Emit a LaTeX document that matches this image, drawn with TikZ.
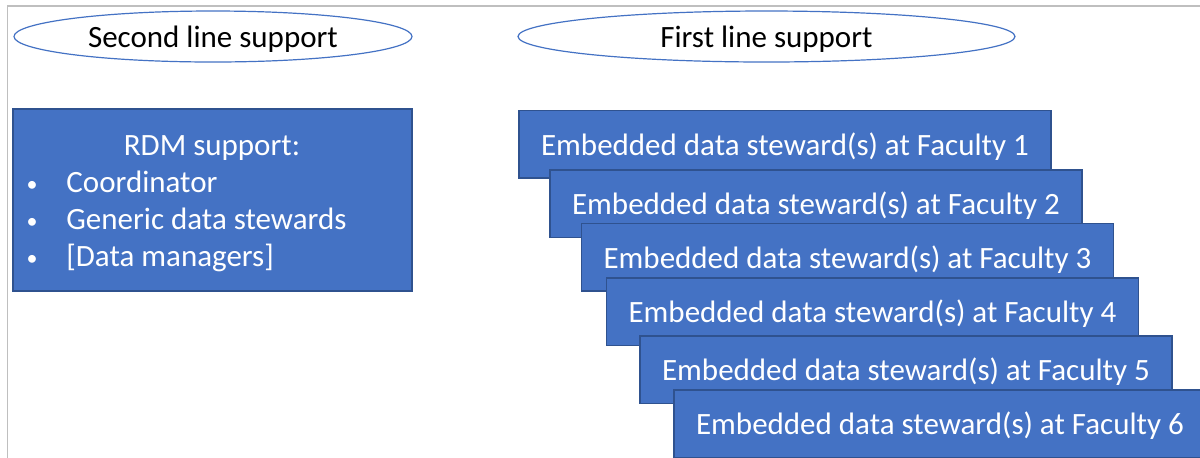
\documentclass[tikz,border=0pt]{standalone}
\usepackage{fontspec}
\setmainfont{Carlito}
\usetikzlibrary{shapes.geometric}
\definecolor{boxblue}{RGB}{68,114,196}
\definecolor{boxedge}{RGB}{47,82,143}
\definecolor{framegray}{RGB}{191,191,191}
\tikzset{
  lineoval/.style={ellipse, draw=boxblue, line width=0.6pt, fill=white, inner sep=0pt,
    minimum height=25.5pt, text height=12.5pt, text depth=2pt, font=\fontsize{15.5}{18}\selectfont},
  stewardbox/.style={rectangle, draw=boxedge, line width=0.75pt, fill=boxblue, text=white,
    minimum width=266pt, minimum height=33.75pt, inner sep=0pt,
    text height=13pt, text depth=2pt, font=\fontsize{15.5}{18}\selectfont},
  rdmtext/.style={text=white, inner sep=0pt, font=\fontsize{15.5}{18}\selectfont},
  rdmdot/.style={text=white, inner sep=0pt, font=\fontsize{11}{13}\selectfont}
}
\begin{document}
\begin{tikzpicture}[x=0.5pt, y=-0.5pt]
    \useasboundingbox (0,0) rectangle (1200,457);
    % frame of the slide
    \draw[framegray, line width=0.9pt] (7.5,470) -- (7.5,6) -- (1210,6);
    % the two support lines
    \node[lineoval, minimum width=199pt] (second) at (213,36.5) {Second line support};
    \node[lineoval, minimum width=248.5pt] (first) at (766.5,36.5) {First line support};
    % second line: central RDM support
    \node[rectangle, draw=boxedge, line width=0.75pt, fill=boxblue,
          minimum width=199.5pt, minimum height=91pt] (rdm) at (212.5,200) {};
    \node[rdmtext, anchor=base] (rdmtitle) at (212,155) {RDM support:};
    \node[rdmdot, anchor=base] (dot1) at (32,191) {•};
    \node[rdmtext, anchor=base west] (coord) at (66,192.7) {Coordinator};
    \node[rdmdot, anchor=base] (dot2) at (32,228) {•};
    \node[rdmtext, anchor=base west] (generic) at (66,229.5) {Generic data stewards};
    \node[rdmdot, anchor=base] (dot3) at (32,265) {•};
    \node[rdmtext, anchor=base west] (managers) at (66,266.5) {[Data managers]};
    % first line: embedded data stewards, one box per faculty
    \node[stewardbox] (fac1) at (785,144) {Embedded data steward(s) at Faculty 1};
    \node[stewardbox] (fac2) at (816,203.5) {Embedded data steward(s) at Faculty 2};
    \node[stewardbox] (fac3) at (847.5,257) {Embedded data steward(s) at Faculty 3};
    \node[stewardbox] (fac4) at (872.5,311.5) {Embedded data steward(s) at Faculty 4};
    \node[stewardbox] (fac5) at (906,369.5) {Embedded data steward(s) at Faculty 5};
    \node[stewardbox] (fac6) at (940,423.5) {Embedded data steward(s) at Faculty 6};
\end{tikzpicture}
\end{document}
